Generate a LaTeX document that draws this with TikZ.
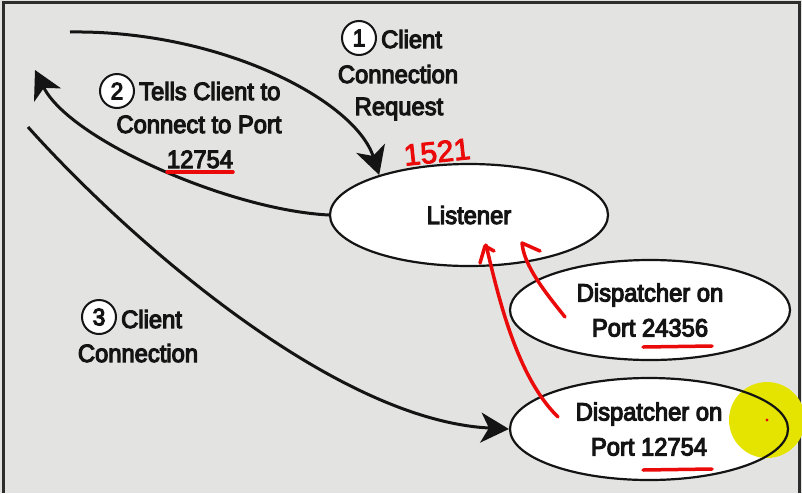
\documentclass[tikz,border=0pt]{standalone}
\usepackage{fontspec}
\setmainfont{Liberation Sans}[FakeStretch=0.95,FakeBold=4.5]
\newfontfamily\handfont{Liberation Sans}[FakeBold=3]
\usetikzlibrary{arrows.meta,shapes.geometric}
\definecolor{bg}{RGB}{227,228,226}
\definecolor{framec}{RGB}{45,45,45}
\definecolor{ink}{RGB}{20,20,20}
\definecolor{redpen}{RGB}{235,10,10}
\definecolor{hl}{RGB}{228,228,0}
\begin{document}
\begin{tikzpicture}[x=1pt,y=-1pt,
  lbl/.style={font=\fontsize{25}{33}\selectfont, inner sep=0pt, text=ink},
  num/.style={circle, draw=ink, line width=2pt, fill=white, minimum size=34pt, inner sep=0pt, font=\fontsize{24}{24}\selectfont, text=ink},
  bubble/.style={ellipse, draw=ink, line width=2.2pt, fill=white, inner sep=0pt, align=center, font=\fontsize{25}{35}\selectfont, text=ink},
  flow/.style={draw=ink, line width=3pt, -{Stealth[length=28pt,width=30pt,inset=8pt]}},
  redmark/.style={draw=redpen, line width=3.5pt, line cap=round, line join=round}
]
\useasboundingbox (0,0) rectangle (802,493);
\fill[bg] (0,0) rectangle (802,493);
\draw[framec, line width=3pt] (3,493) -- (3,2.5) -- (799.5,2.5) -- (799.5,493);

% ellipses
\node[bubble, minimum width=278pt, minimum height=102pt] (listener) at (469,215) {Listener};
\node[bubble, minimum width=280pt, minimum height=100pt] (disp1) at (650,310) {Dispatcher on\\Port 24356};
\node[bubble, minimum width=278pt, minimum height=102pt] (disp2) at (649,429) {Dispatcher on\\Port 12754};

% labels
\node[num] (n1) at (359,38) {1};
\node[lbl, anchor=base west] (l1a) at (381,48) {Client};
\node[lbl, anchor=base] (l1b) at (398,83) {Connection};
\node[lbl, anchor=base] (l1c) at (399,115) {Request};

\node[num] (n2) at (117,91) {2};
\node[lbl, anchor=base west] (l2a) at (139,100) {Tells Client to};
\node[lbl, anchor=base] (l2b) at (199,133) {Connect to Port};
\node[lbl, anchor=base] (l2c) at (200,168) {12754};

\node[num] (n3) at (99,317) {3};
\node[lbl, anchor=base west] (l3a) at (121,328) {Client};
\node[lbl, anchor=base] (l3b) at (138,362) {Connection};

% connectors
\coordinate (s1) at (70,32);
\coordinate (e2) at (35,70);
\coordinate (s3) at (28,127);
\draw[flow] (s1) .. controls (220,30) and (355,100) .. (listener.156);
\draw[flow] (listener.west) .. controls (230,210) and (70,140) .. (e2);
\draw[flow] (s3) .. controls (120,230) and (330,420) .. (disp2.west);

% red annotations
\node[text=redpen, font=\handfont\fontsize{30}{30}\selectfont, rotate=6, inner sep=0pt] (port) at (437,152) {1521};
\draw[redmark] (167,172) -- (233,172);
\draw[redmark] (643,347) -- (712,346);
\draw[redmark] (643,470) -- (712,469);
\draw[redmark] (565,317) .. controls (545,292) and (524,266) .. (522,243) -- (540,251);
\draw[redmark] (558,417) .. controls (515,375) and (497,290) .. (486,245);
\draw[redmark] (480,263) -- (485,246) -- (494,251);

% highlight
\fill[hl] (767,420) circle (38);
\begin{scope}
  \clip (767,420) circle (38);
  \draw[ink, line width=2.2pt] (disp2.center) ellipse [x radius=139, y radius=51];
\end{scope}
\fill[redpen] (767,420) circle (1.6);
\end{tikzpicture}
\end{document}
